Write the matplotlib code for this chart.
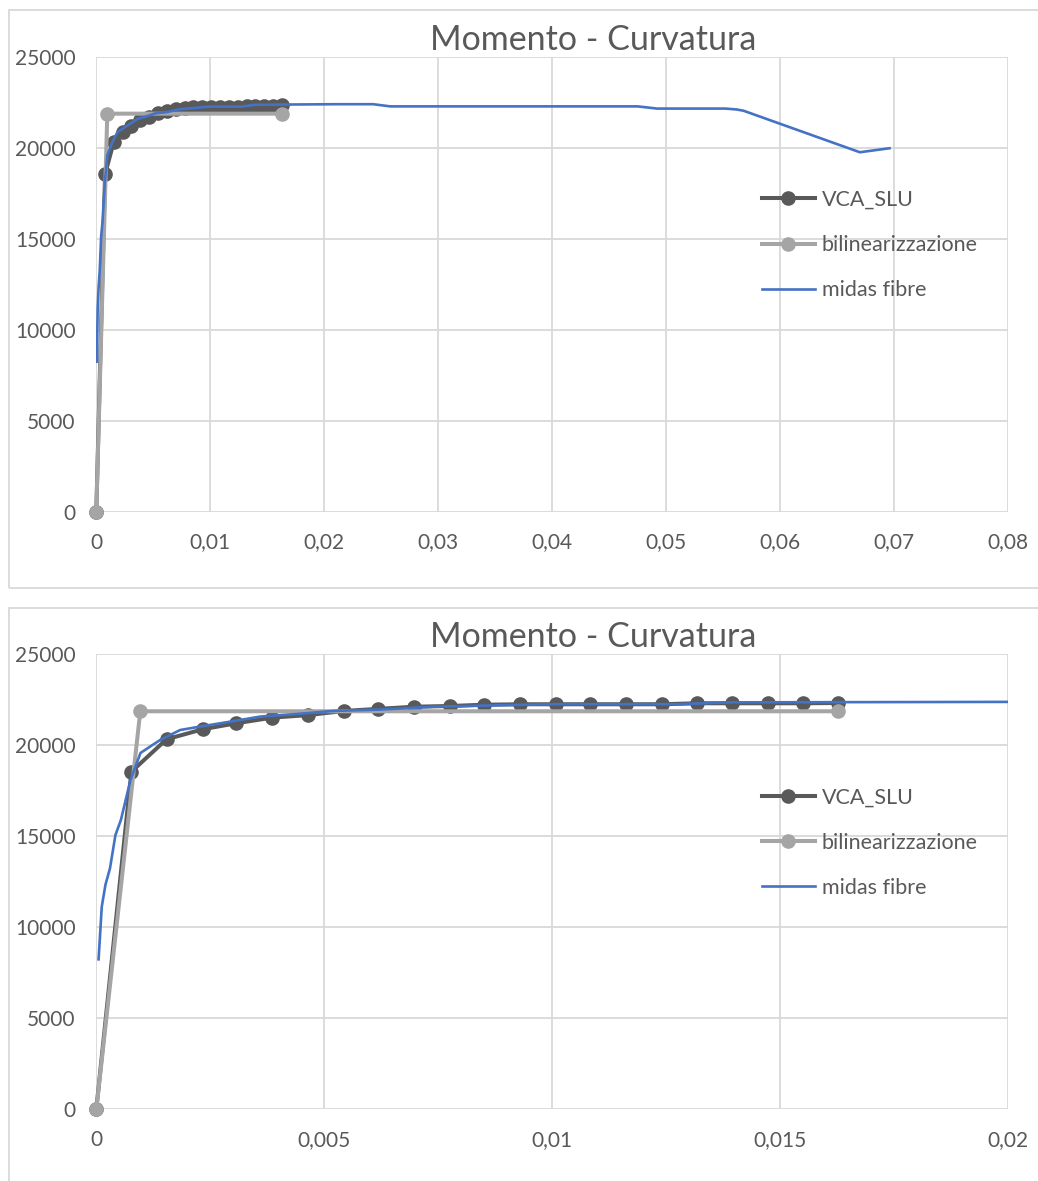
import numpy as np
import matplotlib
matplotlib.use("Agg")
from matplotlib import pyplot as plt
from matplotlib.patches import Rectangle
from matplotlib.ticker import FuncFormatter, MultipleLocator

# moment-curvature data
vca_curv = [0, 0.00077, 0.00154, 0.00233, 0.00307, 0.00386, 0.00465, 0.00544,
            0.00618, 0.00697, 0.00776, 0.00851, 0.00930, 0.01009, 0.01083,
            0.01162, 0.01241, 0.01318, 0.01395, 0.01474, 0.01550, 0.01627]
vca_mom = [0, 18550, 20330, 20880, 21210, 21520, 21660, 21890,
           22000, 22120, 22160, 22230, 22255, 22255, 22255,
           22255, 22255, 22310, 22310, 22310, 22310, 22325]

bil_curv = [0, 0.000965, 0.01627]
bil_mom = [0, 21870, 21870]

midas_curv = [0.00005, 0.00012, 0.0002, 0.0003, 0.00042, 0.00054, 0.00075,
              0.00097, 0.00118, 0.0014, 0.00184, 0.00228, 0.00294, 0.0036,
              0.0044, 0.0052, 0.0062, 0.0074, 0.0092, 0.0101, 0.0128, 0.0139,
              0.0212, 0.0243, 0.0258, 0.0475, 0.0492, 0.0552, 0.0562, 0.0568,
              0.067, 0.0696]
midas_mom = [8240, 11130, 12330, 13240, 15070, 15900, 18100,
             19580, 19930, 20290, 20840, 21030, 21300, 21580,
             21720, 21890, 21960, 22120, 22220, 22260, 22260, 22360,
             22390, 22390, 22270, 22270, 22150, 22150, 22100, 22030,
             19750, 19970]

W, H = 1038, 1181
TXT = "#595959"
GRID = "#D9D9D9"
FONT = "Lato"

fig = plt.figure(figsize=(W / 100, H / 100), dpi=100)


def px_box(x0, y0, x1, y1):
    # pixel box (top-left origin) -> figure fraction rect
    return [x0 / W, 1 - y1 / H, (x1 - x0) / W, (y1 - y0) / H]


def comma(v, pos):
    if abs(v) < 1e-12:
        return "0"
    return f"{v:g}".replace(".", ",")


def draw_chart(frame, plot, title_y, xmax, xstep):
    # outer chart border
    fx0, fy0, fx1, fy1 = frame
    fig.patches.append(Rectangle((fx0 / W, 1 - fy1 / H), (fx1 - fx0) / W, (fy1 - fy0) / H,
                                 transform=fig.transFigure, fill=False,
                                 edgecolor=GRID, linewidth=1.3))
    ax = fig.add_axes(px_box(*plot))
    ax.plot(vca_curv, vca_mom, color="#595959", lw=2.9, marker="o", ms=9.5,
            label="VCA_SLU", zorder=3, clip_on=False)
    ax.plot(bil_curv, bil_mom, color="#A5A5A5", lw=2.9, marker="o", ms=9.5,
            label="bilinearizzazione", zorder=4, clip_on=False)
    ax.plot(midas_curv, midas_mom, color="#4472C4", lw=1.9,
            label="midas fibre", zorder=5)
    ax.set_xlim(0, xmax)
    ax.set_ylim(0, 25000)
    ax.xaxis.set_major_locator(MultipleLocator(xstep))
    ax.yaxis.set_major_locator(MultipleLocator(5000))
    ax.xaxis.set_major_formatter(FuncFormatter(comma))
    ax.grid(True, color=GRID, lw=1.3)
    ax.set_axisbelow(True)
    for s in ax.spines.values():
        s.set_visible(False)
    ax.tick_params(length=0, labelsize=15, labelcolor=TXT, pad=15)
    for lab in ax.get_xticklabels() + ax.get_yticklabels():
        lab.set_fontfamily(FONT)
    leg = ax.legend(loc="center left", bbox_to_anchor=(0.7298, 0.586),
                    frameon=False, borderpad=0, borderaxespad=0,
                    handlelength=2.48, handletextpad=0.31, labelspacing=1.17,
                    prop={"family": FONT, "size": 15.5})
    for t in leg.get_texts():
        t.set_color(TXT)
    fig.text(593 / W, 1 - title_y / H, "Momento - Curvatura", ha="center",
             va="baseline", fontsize=24.5, color=TXT, family=FONT)
    return ax


draw_chart((9, 10, 1060, 588), (96.3, 56.7, 1008, 511.7), 49.7, 0.08, 0.01)
draw_chart((9, 608.3, 1060, 1200), (96.3, 654.3, 1008, 1109.3), 647.3, 0.02, 0.005)

fig.savefig("out.png", dpi=100)
